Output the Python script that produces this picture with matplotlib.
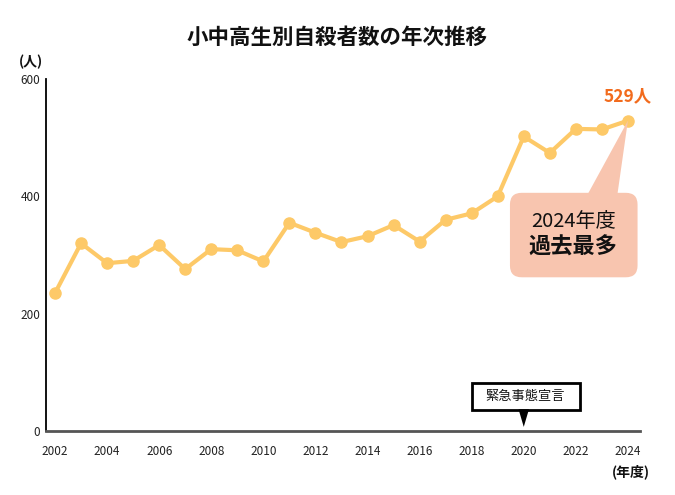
import matplotlib
matplotlib.use("Agg")
import matplotlib.pyplot as plt
from matplotlib.patches import FancyBboxPatch, Polygon, Rectangle

plt.rcParams["font.family"] = ["Noto Sans CJK JP", "DejaVu Sans"]

# 小中高生の自殺者数（年度別）
years = list(range(2002, 2025))
suicides = [235, 320, 286, 290, 317, 276, 310, 308, 289, 355, 338, 322,
            332, 351, 323, 360, 371, 400, 502, 474, 515, 514, 529]
xticks = list(range(2002, 2025, 2))
yticks = [0, 200, 400, 600]

LINE_COLOR = "#FDC968"
BOX_COLOR = "#F8C5AF"
ORANGE = "#F26B1D"

fig = plt.figure(figsize=(6.75, 4.95), dpi=100)
ax = fig.add_axes([0.068, 0.1293, 0.880, 0.7111])

ax.plot(years, suicides, color=LINE_COLOR, lw=3.0, marker="o", ms=8,
        solid_joinstyle="round", zorder=3)

ax.set_xlim(2001.65, 2024.46)
ax.set_ylim(0, 600)
ax.set_xticks(xticks)
ax.set_yticks(yticks)
ax.tick_params(axis="both", length=0, labelsize=8.5, colors="#222222")
ax.tick_params(axis="x", pad=10)
ax.tick_params(axis="y", pad=4)
for s in ("top", "right"):
    ax.spines[s].set_visible(False)
ax.spines["left"].set_color("black")
ax.spines["left"].set_linewidth(1.3)
ax.spines["bottom"].set_color("#555555")
ax.spines["bottom"].set_linewidth(2)

# 2024年度 吹き出し
box = FancyBboxPatch((2019.47, 262), 4.9, 144,
                     boxstyle="round,pad=0,rounding_size=0.45",
                     mutation_aspect=44.4, fc=BOX_COLOR, ec="none", zorder=4)
ax.add_patch(box)
ax.add_patch(Polygon([(2022.35, 395), (2023.57, 395),
                      (years[-1], suicides[-1])],
                     closed=True, fc=BOX_COLOR, ec="none", zorder=4))
ax.text(2021.9, 357, "2024年度", ha="center", va="center", fontsize=14.5,
        color="#111111", zorder=5)
ax.text(2021.9, 314, "過去最多", ha="center", va="center", fontsize=16,
        fontweight="bold", color="#111111", zorder=5)

ax.text(years[-1], suicides[-1] + 42, f"{suicides[-1]}人", ha="center",
        va="center", fontsize=12.5, fontweight="bold", color=ORANGE)

# 緊急事態宣言ラベル
ax.add_patch(Rectangle((2018.0, 36), 4.15, 46, fc="white", ec="black",
                       lw=2, zorder=4))
ax.add_patch(Polygon([(2019.8, 37), (2020.2, 37), (2020, 7)], closed=True,
                     fc="black", ec="none", zorder=4))
ax.text(2020.07, 59, "緊急事態宣言", ha="center", va="center", fontsize=9.5,
        color="#111111", zorder=5)

fig.text(0.5, 0.925, "小中高生別自殺者数の年次推移", ha="center", va="center",
         fontsize=15.5, fontweight="bold", color="#111111")
fig.text(0.046, 0.875, "(人)", ha="center", va="center", fontsize=10,
         fontweight="bold", color="#111111")
fig.text(0.935, 0.046, "(年度)", ha="center", va="center", fontsize=10,
         fontweight="bold", color="#111111")

fig.savefig("out.png", dpi=100)
